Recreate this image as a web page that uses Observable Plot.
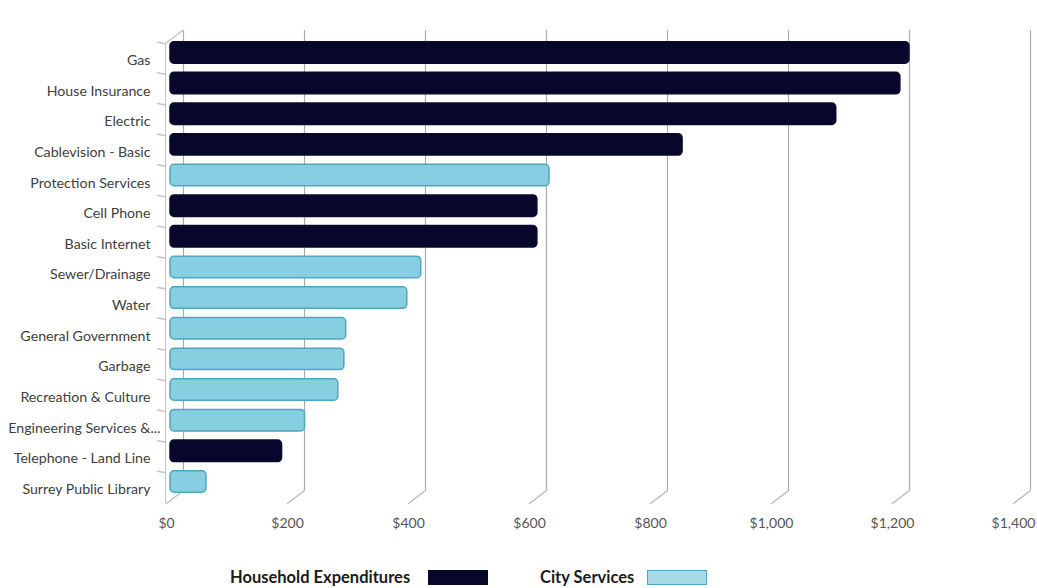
<!DOCTYPE html>
<html>
<head>
<meta charset="utf-8">
<script src="https://cdn.jsdelivr.net/npm/d3@7"></script>
<script src="https://cdn.jsdelivr.net/npm/@observablehq/plot@0.6"></script>
<style>
  html, body { margin: 0; padding: 0; background: #fff; }
  #wrap { width: 1037px; height: 588px; position: relative; font-family: Lato, "Open Sans", sans-serif; }
  #chart { position: absolute; left: 0; top: 0; }
  #legend { position: absolute; left: 0; top: 566px; width: 1037px; height: 22px; }
  #legend span.t { position: absolute; font-weight: bold; font-size: 16.5px; line-height: 20px; color: #1a1a1a; top: 1px; white-space: nowrap; }
  #legend span.s { position: absolute; width: 60px; height: 15px; top: 4px; box-sizing: border-box; }
</style>
</head>
<body>
<div id="wrap">
  <div id="chart"></div>
  <div id="legend"></div>
</div>
<script>
const categories = [
  "Gas", "House Insurance", "Electric", "Cablevision - Basic", "Protection Services",
  "Cell Phone", "Basic Internet", "Sewer/Drainage", "Water", "General Government",
  "Garbage", "Recreation & Culture", "Engineering Services &...", "Telephone - Land Line",
  "Surrey Public Library"
];
const values = [1228, 1213, 1107, 853, 633, 613, 613, 421, 398, 297, 294, 284, 229, 191, 66];
const groups = [
  "Household Expenditures", "Household Expenditures", "Household Expenditures", "Household Expenditures",
  "City Services", "Household Expenditures", "Household Expenditures", "City Services", "City Services",
  "City Services", "City Services", "City Services", "City Services", "Household Expenditures", "City Services"
];
const xTicks = [0, 200, 400, 600, 800, 1000, 1200, 1400];
const seriesNames = ["Household Expenditures", "City Services"];
const seriesFill = ["#07062b", "#87cee1"];
const seriesStroke = ["#0b0a30", "#4ea6bf"];
const legendFill = ["#07062b", "#a6dae8"];
const longLabel = "Engineering Services &...";

const data = categories.map((c, i) => ({category: c, value: values[i], group: groups[i]}));

// a plain line segment shape for Plot.vector
const segment = {draw(ctx, l) { ctx.moveTo(0, 0); ctx.lineTo(0, -l); }};

const chart = Plot.plot({
  width: 1037,
  height: 560,
  marginLeft: 166,
  marginRight: 24,
  marginTop: 32.5,
  marginBottom: 58.6,
  style: {fontFamily: "Lato, 'Open Sans', sans-serif", color: "#404040", background: "#fff"},
  x: {domain: [0, 1400], label: null},
  y: {domain: categories, padding: 0.3, round: false, label: null},
  color: {domain: seriesNames, range: seriesFill},
  marks: [
    // back-wall gridlines
    Plot.ruleX(xTicks, {x: d => d, dx: 17, insetTop: -2.5, insetBottom: 11.4, stroke: "#ababab", strokeWidth: 1.2}),
    // floor connectors from front axis to back wall
    Plot.vector(xTicks, {x: d => d, frameAnchor: "bottom", dy: 1.6, rotate: 52.6, length: 21.4, shape: segment, anchor: "start", stroke: "#bdbdbd"}),
    // top-left connector
    Plot.vector([0], {x: d => d, frameAnchor: "top", dx: -1, dy: 10.5, rotate: 52.6, length: 21.4, shape: segment, anchor: "start", stroke: "#c4c4c4"}),
    // front axes
    Plot.ruleY([0], {frameAnchor: "bottom", dy: 1.6, stroke: "#c4c4c4"}),
    Plot.ruleX([0], {x: d => d, dx: -1, insetTop: 10.5, insetBottom: -1.6, stroke: "#c4c4c4"}),
    // left axis tick marks at band boundaries
    Plot.vector(categories, {y: d => d, frameAnchor: "left", dx: -1, dy: -9.3, rotate: -80, length: 8, shape: segment, anchor: "start", stroke: "#c4c4c4"}),
    // bars
    Plot.barX(data, {
      y: "category", x: "value", fill: "group",
      stroke: d => seriesStroke[seriesNames.indexOf(d.group)],
      strokeWidth: 1.5, rx: 4, insetLeft: 4
    }),
    Plot.axisX({ticks: xTicks, tickFormat: d3.format("$,"), tickSize: 0, tickPadding: 16.6, fill: "#555", fontSize: 14, label: null}),
    Plot.axisY({ticks: categories.filter(c => c !== longLabel), tickSize: 0, tickPadding: 16, dy: 7.5, fill: "#404040", fontSize: 14.2, label: null}),
    Plot.axisY({ticks: [longLabel], tickSize: 0, tickPadding: 6, dy: 7.5, fill: "#404040", fontSize: 14.2, label: null})
  ]
});
document.getElementById("chart").appendChild(chart);

const legend = document.getElementById("legend");
const legendPos = [{t: 230, s: 428}, {t: 540, s: 647}];
seriesNames.forEach((name, i) => {
  const t = document.createElement("span");
  t.className = "t";
  t.textContent = name;
  t.style.left = legendPos[i].t + "px";
  legend.appendChild(t);
  const s = document.createElement("span");
  s.className = "s";
  s.style.left = legendPos[i].s + "px";
  s.style.background = legendFill[i];
  s.style.border = "1.5px solid " + seriesStroke[i];
  legend.appendChild(s);
});
</script>
</body>
</html>
